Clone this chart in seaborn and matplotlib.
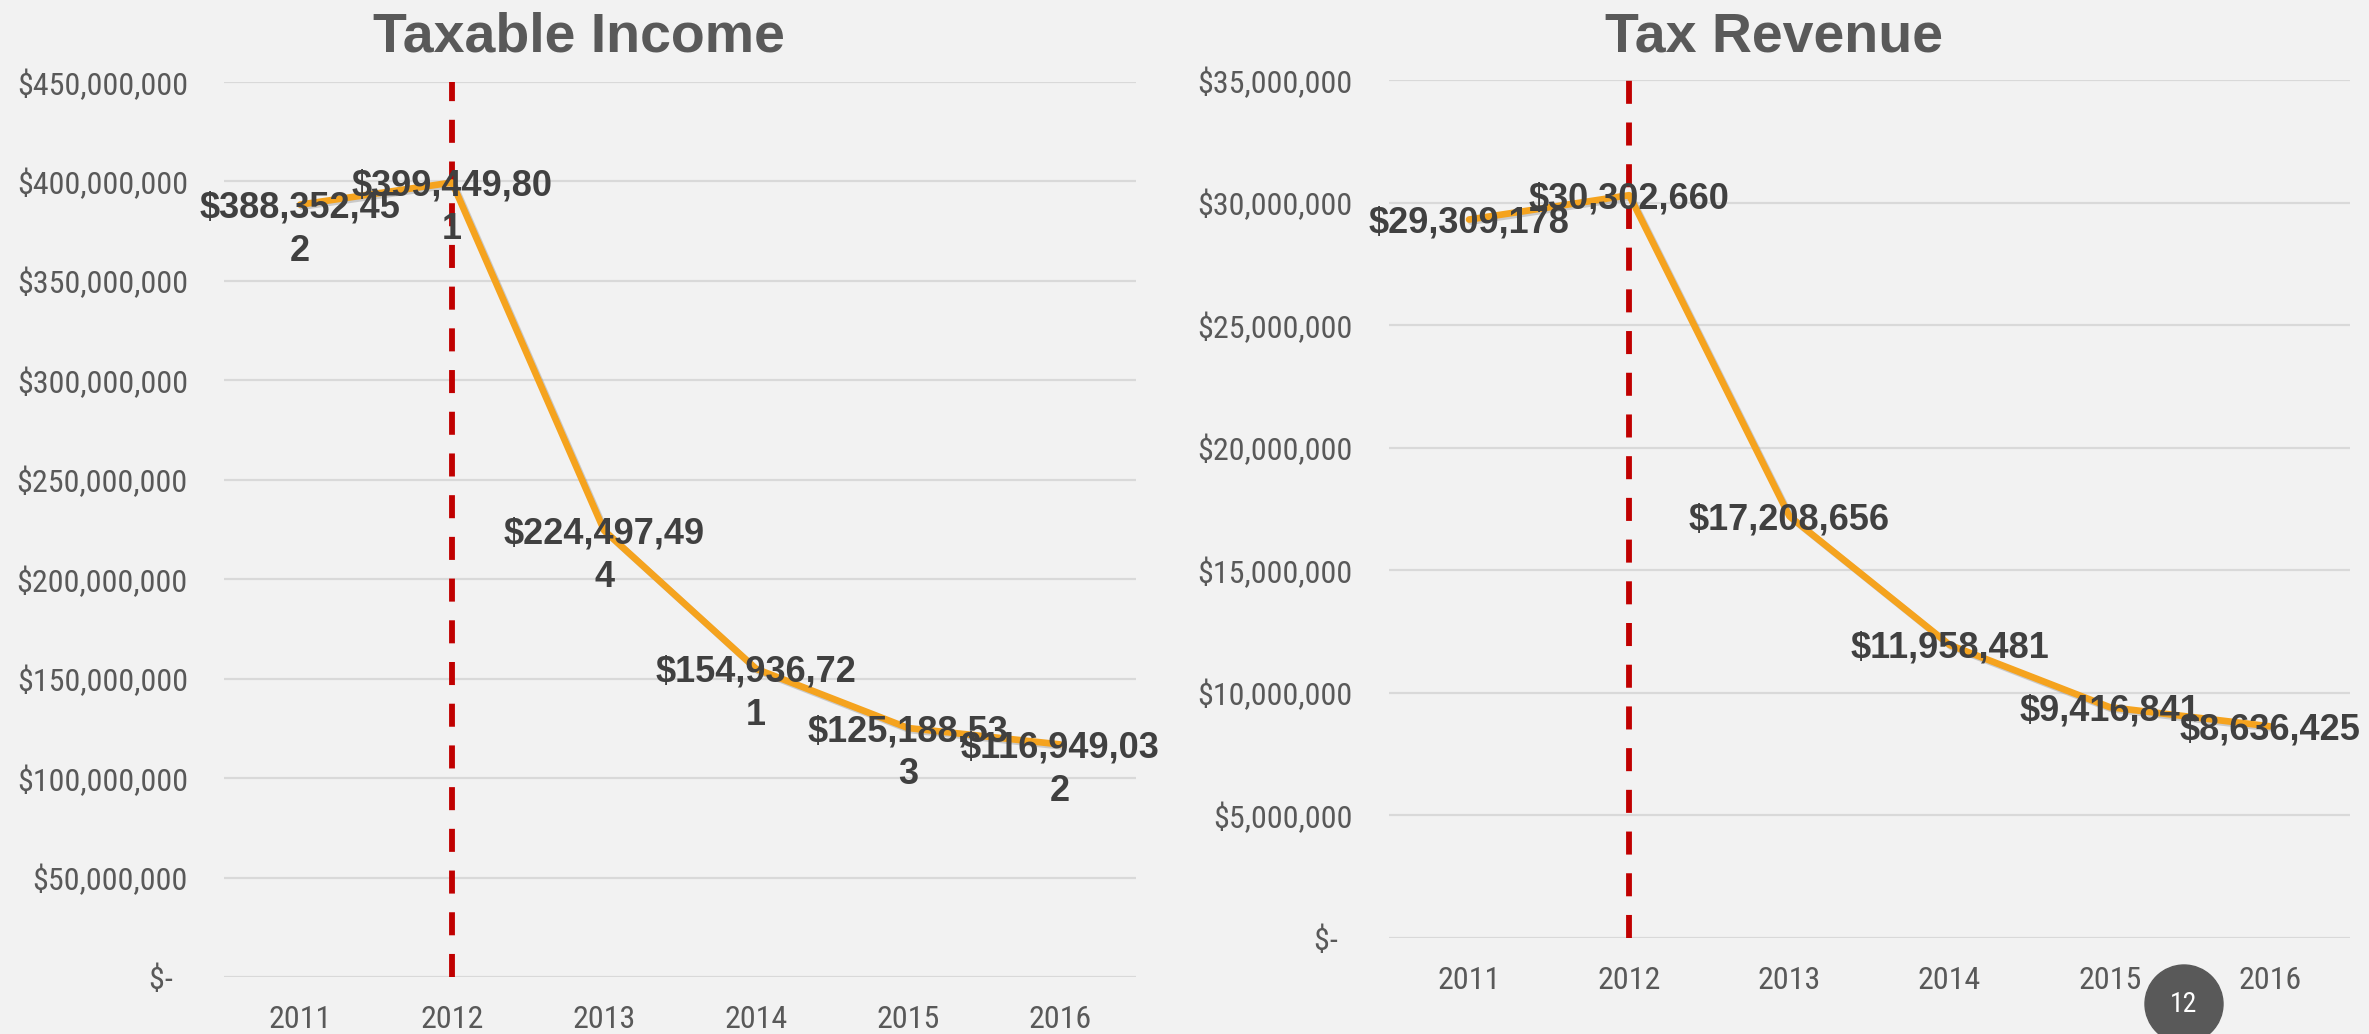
import pandas as pd
import seaborn as sns
import matplotlib.pyplot as plt
import matplotlib.patheffects as pe
from matplotlib import font_manager as fm
from matplotlib.ticker import FuncFormatter, MultipleLocator
from matplotlib.patches import Ellipse

years = ['2011', '2012', '2013', '2014', '2015', '2016']
taxable_income = [388352452, 399449801, 224497494, 154936721, 125188533, 116949032]
tax_revenue = [29309178, 30302660, 17208656, 11958481, 9416841, 8636425]
policy_year = '2012'
slide_number = '12'

BG = '#F2F2F2'
GRID = '#D9D9D9'
TICK = '#595959'
LABEL = '#404040'
ORANGE = '#F5A31E'
RED = '#C00000'

sns.set_theme(style='white', rc={'axes.facecolor': BG, 'figure.facecolor': BG})
plt.rcParams['font.family'] = ['Liberation Sans', 'DejaVu Sans']

# the slide uses a narrow font for the axis text; use one if it is installed
names = {f.name for f in fm.fontManager.ttflist}
condensed = {f.name for f in fm.fontManager.ttflist if f.stretch in ('condensed', 'semi-condensed')}
tick_font, tick_size, tick_stretch = ['Liberation Sans'], 19, 'normal'
for n in ['Liberation Sans Narrow', 'Roboto Condensed', 'Open Sans Condensed']:
    if n in names:
        tick_font, tick_size = [n], 23
        break
else:
    if 'DejaVu Sans' in condensed:
        tick_font, tick_size, tick_stretch = ['DejaVu Sans'], 21, 'condensed'


def money(v, pos=None):
    if v == 0:
        return '$-  '
    return '${:,.0f}'.format(v)


def wrap(s, width=11):
    # Excel wraps the long labels after 11 characters
    if len(s) > width:
        return s[:width] + '\n' + s[width:]
    return s


def draw(ax, values, ymax, step):
    df = pd.DataFrame({'year': years, 'value': values})
    sns.lineplot(data=df, x='year', y='value', ax=ax, color=ORANGE, lw=4.8, sort=False,
                 path_effects=[pe.SimpleLineShadow(offset=(1.5, -1.5), shadow_color='#7f7f7f', alpha=0.35),
                               pe.Normal()], zorder=3)
    ax.axvline(years.index(policy_year), color=RED, lw=4.2, dashes=(3.95, 3.2), zorder=2)

    # first line of each label is centred on its point, wrapped part hangs below
    for i, v in enumerate(values):
        ax.annotate(wrap(money(v)), (i, v), xytext=(0, 10), textcoords='offset points',
                    ha='center', va='top', fontsize=26, fontweight='bold', color=LABEL,
                    zorder=4, linespacing=1.3)

    ax.set_xlim(-0.5, len(years) - 0.5)
    ax.set_ylim(0, ymax)
    ax.yaxis.set_major_locator(MultipleLocator(step))
    ax.yaxis.set_major_formatter(FuncFormatter(money))
    ax.grid(axis='y', color=GRID, lw=1.6)
    ax.grid(axis='x', visible=False)
    sns.despine(ax=ax, left=True, bottom=True)
    ax.tick_params(length=0, labelsize=tick_size, labelcolor=TICK)
    ax.tick_params(axis='y', pad=26)
    ax.tick_params(axis='x', pad=20)
    for t in ax.get_xticklabels() + ax.get_yticklabels():
        t.set_family(tick_font)
        t.set_stretch(tick_stretch)
    ax.set_xlabel('')
    ax.set_ylabel('')


fig = plt.figure(figsize=(23.69, 10.34), dpi=100)
ax1 = fig.add_axes([0.0946, 0.0551, 0.385, 0.8656])
ax2 = fig.add_axes([0.5863, 0.0928, 0.4057, 0.8298])

draw(ax1, taxable_income, 450e6, 50e6)
draw(ax2, tax_revenue, 35e6, 5e6)

# titles are centred over the whole chart block, tick labels included
fig.text(579 / 2369, 1 - 38 / 1034, 'Taxable Income', ha='center', va='center',
         fontsize=40, fontweight='bold', color=TICK)
fig.text(1774 / 2369, 1 - 38 / 1034, 'Tax Revenue', ha='center', va='center',
         fontsize=40, fontweight='bold', color=TICK)

fig.add_artist(Ellipse((2184 / 2369, 1 - 1004 / 1034), 78 / 2369, 78 / 1034,
                       transform=fig.transFigure, color=TICK, zorder=5))
fig.text(2184 / 2369, 1 - 1004 / 1034, slide_number, ha='center', va='center', color='white',
         fontsize=20, family=tick_font, stretch=tick_stretch, zorder=6)

fig.savefig('out.png', dpi=100, facecolor=BG)
